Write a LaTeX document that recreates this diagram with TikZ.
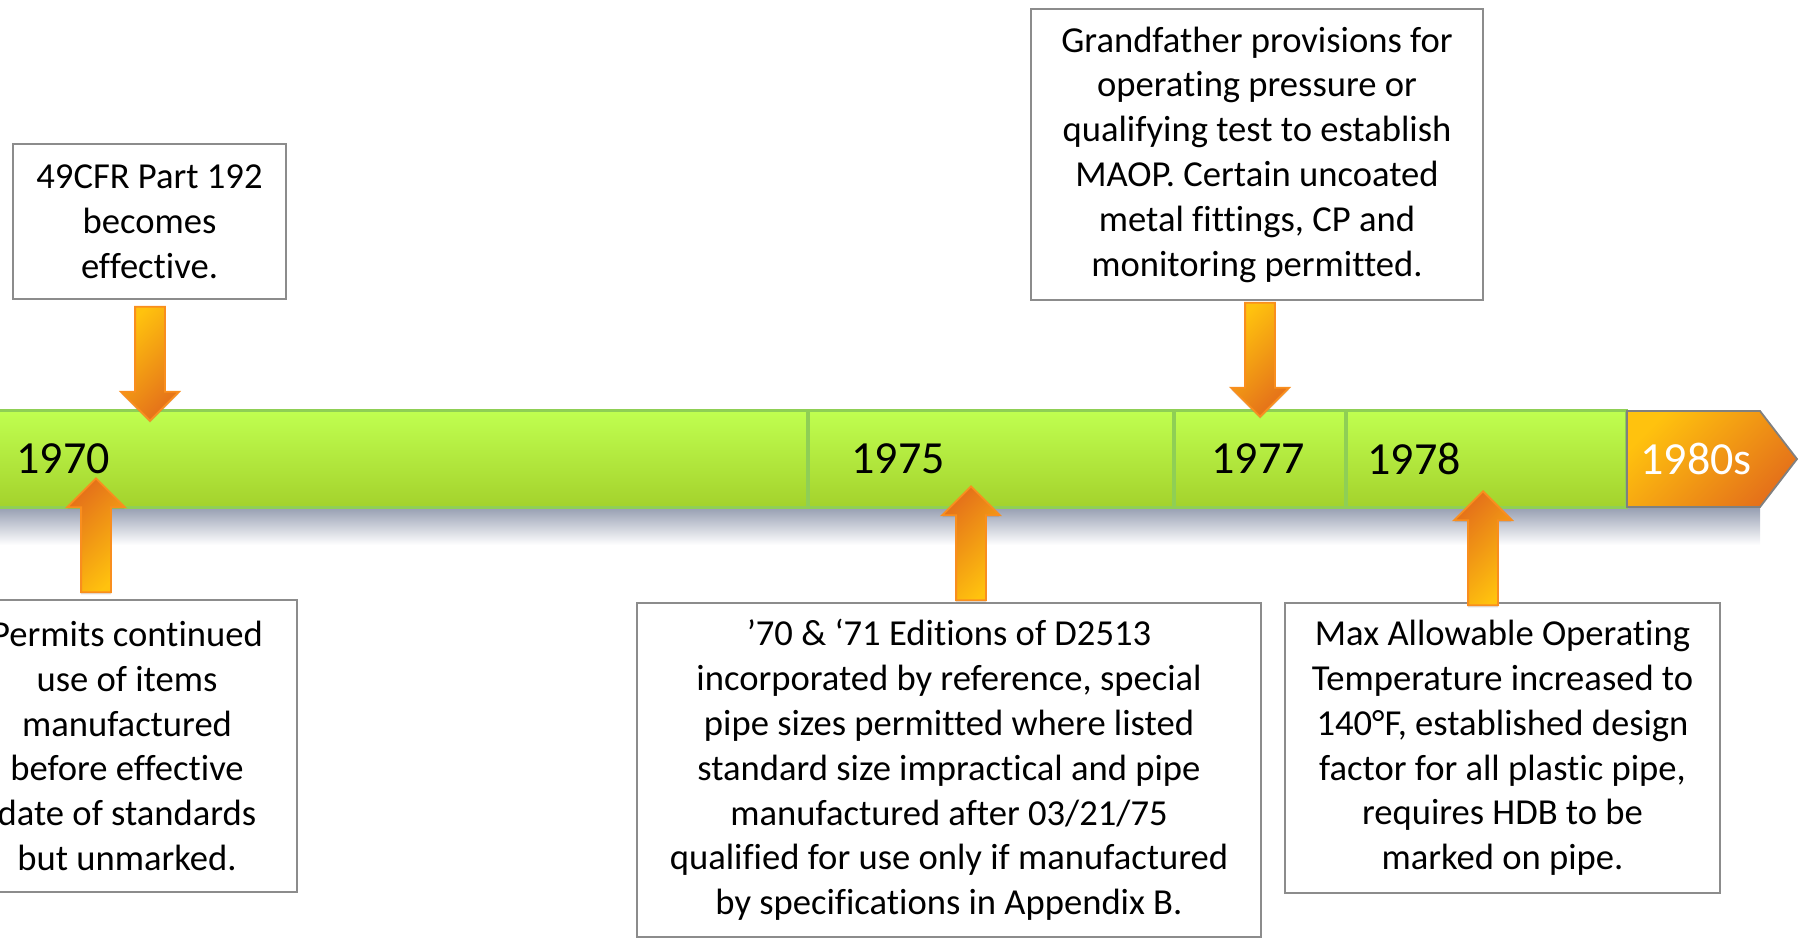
\documentclass[tikz,border=0pt]{standalone}
\usepackage{fontspec}
\setmainfont{Carlito}[Ligatures=NoCommon]
\usetikzlibrary{shapes.arrows, shadows}

\definecolor{barTop}{HTML}{C0FF50}
\definecolor{barBot}{HTML}{A4D22C}
\definecolor{barLine}{HTML}{8FCF55}
\definecolor{arrLight}{HTML}{FFC20E}
\definecolor{arrDark}{HTML}{E4701A}
\definecolor{arrLine}{HTML}{F98E1E}
\definecolor{boxLine}{HTML}{8C8C8C}
\definecolor{shadeGray}{HTML}{959DB1}

\begin{document}
\begin{tikzpicture}[x=0.5pt, y=-0.5pt,
    notebox/.style={draw=boxLine, line width=0.9pt, fill=white, align=center,
        inner sep=0pt, font=\fontsize{18.3}{22.4}\selectfont},
    yearlabel/.style={font=\fontsize{23}{27}\selectfont},
    blockarrow/.style={single arrow, draw=arrLine, line width=0.9pt,
        inner xsep=0pt, inner ysep=7pt, single arrow head extend=7pt,
        minimum height=57pt, anchor=tip,
        drop shadow={opacity=0.25, shadow xshift=0pt, shadow yshift=-1pt}},
    downarrow/.style={blockarrow, rotate=-90,
        top color=arrLight, bottom color=arrDark, shading angle=45},
    uparrow/.style={blockarrow, rotate=90,
        top color=arrDark, bottom color=arrLight, shading angle=45}]
    \useasboundingbox (0,0) rectangle (1805,939);
    \clip (0,0) rectangle (1805,939);

    % the time bar
    \shade[top color=shadeGray, bottom color=white]
        (0,507) rectangle (1760,545);
    \draw[barLine, line width=1.5pt, top color=barTop, bottom color=barBot]
        (-10,410) rectangle (1626,507);
    \draw[barLine, line width=1.75pt] (808,411) -- (808,506);
    \draw[barLine, line width=1.75pt] (1174,411) -- (1174,506);
    \draw[barLine, line width=1.75pt] (1346,411) -- (1346,506);
    \draw[black!50, line width=0.9pt, top color=arrLight, bottom color=arrDark,
        shading angle=45]
        (1627,411) -- (1760,411) -- (1797,459) -- (1760,507) -- (1627,507) -- cycle;

    \node[yearlabel] (y1970) at (63,459) {1970};
    \node[yearlabel] (y1975) at (898,459) {1975};
    \node[yearlabel] (y1977) at (1258,459) {1977};
    \node[yearlabel] (y1978) at (1414,459) {1978};
    \node[yearlabel, text=white] (y1980) at (1696,459) {1980s};

    % notes above the bar
    \node[notebox, minimum width=136.5pt, minimum height=77.5pt] (part192)
        at (149.5,221.5) {49CFR Part 192\\becomes\\effective.};
    \node[notebox, minimum width=226pt, minimum height=145.5pt] (grandfather)
        at (1257,154.5) {Grandfather provisions for\\operating pressure or\\
        qualifying test to establish\\MAOP. Certain uncoated\\
        metal fittings, CP and\\monitoring permitted.};

    % notes below the bar
    \node[notebox, minimum width=170pt, minimum height=146pt] (permits)
        at (127,746) {Permits continued\\use of items\\manufactured\\
        before effective\\date of standards\\but unmarked.};
    \node[notebox, minimum width=312pt, minimum height=167pt] (editions)
        at (949,770) {’70 \& ‘71 Editions of D2513\\
        incorporated by reference, special\\pipe sizes permitted where listed\\
        standard size impractical and pipe\\manufactured after 03/21/75\\
        qualified for use only if manufactured\\by specifications in Appendix B.};
    \node[notebox, minimum width=217.5pt, minimum height=145pt] (maxtemp)
        at (1502.5,748) {Max Allowable Operating\\Temperature increased to\\
        140°F, established design\\factor for all plastic pipe,\\
        requires HDB to be\\marked on pipe.};

    % arrows
    \node[downarrow] (arrPart) at (150,422) {};
    \node[downarrow] (arrGrand) at (1260,418) {};
    \node[uparrow] (arrPermits) at (96,477) {};
    \node[uparrow] (arrEditions) at (971,485) {};
    \node[uparrow] (arrMaxtemp) at (1483,490) {};
\end{tikzpicture}
\end{document}
